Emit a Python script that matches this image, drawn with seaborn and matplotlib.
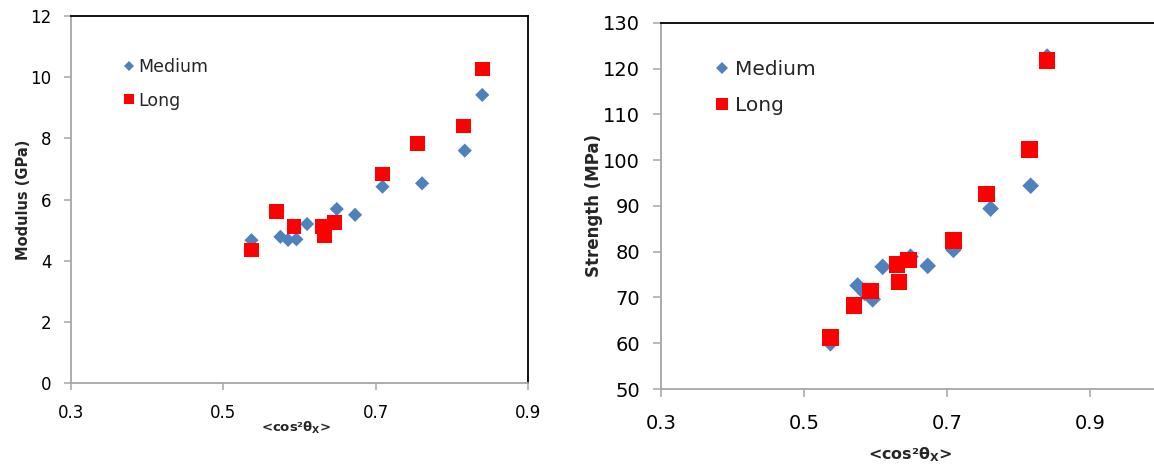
import numpy as np
import pandas as pd
import matplotlib
matplotlib.use("Agg")
import matplotlib.pyplot as plt
import seaborn as sns

# Orientation parameter <cos^2 theta_x> for each sample
medium_x = [0.537, 0.575, 0.585, 0.596, 0.610, 0.649, 0.673, 0.709, 0.761, 0.817, 0.840]
long_x = [0.537, 0.570, 0.593, 0.630, 0.633, 0.646, 0.709, 0.755, 0.815, 0.840]

# Tensile modulus (GPa)
medium_modulus = [4.67, 4.78, 4.68, 4.70, 5.20, 5.69, 5.50, 6.42, 6.53, 7.60, 9.42]
long_modulus = [4.35, 5.60, 5.11, 5.11, 4.81, 5.26, 6.83, 7.84, 8.40, 10.27]

# Tensile strength (MPa)
medium_strength = [60.0, 72.6, 71.0, 69.6, 76.7, 78.9, 76.9, 80.4, 89.4, 94.4, 122.6]
long_strength = [61.3, 68.3, 71.4, 77.2, 73.4, 78.2, 82.5, 92.6, 102.3, 121.8]

series_names = ["Medium", "Long"]
x_ticks = [0.3, 0.5, 0.7, 0.9]
modulus_ticks = [0, 2, 4, 6, 8, 10, 12]
strength_ticks = [50, 60, 70, 80, 90, 100, 110, 120, 130]

df = pd.DataFrame({
    "orient": medium_x + long_x,
    "modulus": medium_modulus + long_modulus,
    "strength": medium_strength + long_strength,
    "fiber": ["Medium"] * len(medium_x) + ["Long"] * len(long_x),
})

sns.set_style("white")
plt.rcParams["font.family"] = ["DejaVu Sans"]

palette = {"Medium": "#4F81BD", "Long": "#FF0000"}
markers = {"Medium": "D", "Long": "s"}
GREY = "#A6A6A6"

fig = plt.figure(figsize=(11.54, 4.65), dpi=100)
ax1 = fig.add_axes([0.0615, 0.1763, 0.3960, 0.7892])
ax2 = fig.add_axes([0.5728, 0.1634, 0.4272, 0.7877])


def style_axes(ax, tick_fs, tick_len, xpad, ypad, right_border=True):
    for side in ["left", "bottom"]:
        ax.spines[side].set_color(GREY)
        ax.spines[side].set_linewidth(1.3)
    ax.spines["top"].set_color("black")
    ax.spines["top"].set_linewidth(1.3)
    if right_border:
        ax.spines["right"].set_color("black")
        ax.spines["right"].set_linewidth(1.3)
    else:
        ax.spines["right"].set_visible(False)
    ax.tick_params(axis="both", which="major", direction="out", color=GREY,
                   width=1.1, length=tick_len, labelsize=tick_fs, labelcolor="black")
    ax.tick_params(axis="x", pad=xpad, bottom=True)
    ax.tick_params(axis="y", pad=ypad, left=True)
    ax.grid(False)


# Left panel: modulus
sns.scatterplot(data=df, x="orient", y="modulus", hue="fiber", style="fiber",
                size="fiber", sizes={"Medium": 52, "Long": 112},
                hue_order=series_names, style_order=series_names, size_order=series_names,
                palette=palette, markers=markers, linewidth=0, ax=ax1)
ax1.set_xlim(0.3, 0.9)
ax1.set_ylim(0, 12)
ax1.set_xticks(x_ticks)
ax1.set_xticklabels([f"{v:.1f}" for v in x_ticks])
ax1.set_yticks(modulus_ticks)
style_axes(ax1, tick_fs=12, tick_len=5, xpad=10, ypad=9)
ax1.set_ylabel("Modulus (GPa)", fontsize=10.5, fontweight="bold")
ax1.yaxis.set_label_coords(-0.088, 0.5)
ax1.set_xlabel(r"<cos²θ$_{\mathbf{X}}$>", fontsize=9.5, fontweight="bold")
ax1.xaxis.set_label_coords(0.492, -0.100)
h, l = ax1.get_legend_handles_labels()
ax1.legend(h, l, loc="upper left", bbox_to_anchor=(0.107, 0.886), frameon=False,
           fontsize=12.5, markerscale=0.66, handlelength=1.0, handletextpad=0.05,
           labelspacing=0.9, borderpad=0, borderaxespad=0)

# Right panel: strength
sns.scatterplot(data=df, x="orient", y="strength", hue="fiber", style="fiber",
                size="fiber", sizes={"Medium": 72, "Long": 144},
                hue_order=series_names, style_order=series_names, size_order=series_names,
                palette=palette, markers=markers, linewidth=0, ax=ax2)
ax2.set_xlim(0.3, 0.9895)
ax2.set_ylim(50, 130)
ax2.set_xticks(x_ticks)
ax2.set_xticklabels([f"{v:.1f}" for v in x_ticks])
ax2.set_yticks(strength_ticks)
style_axes(ax2, tick_fs=14, tick_len=6, xpad=12, ypad=9, right_border=False)
ax2.set_ylabel("Strength (MPa)", fontsize=12, fontweight="bold")
ax2.yaxis.set_label_coords(-0.1176, 0.5)
ax2.set_xlabel(r"<cos²θ$_{\mathbf{X}}$>", fontsize=11.5, fontweight="bold")
ax2.xaxis.set_label_coords(0.505, -0.153)
h, l = ax2.get_legend_handles_labels()
ax2.legend(h, l, loc="upper left", bbox_to_anchor=(0.103, 0.898), frameon=False,
           fontsize=14.5, markerscale=0.7, handlelength=1.0, handletextpad=0.15,
           labelspacing=0.85, borderpad=0, borderaxespad=0)

fig.savefig("out.png", dpi=100, facecolor="white")
